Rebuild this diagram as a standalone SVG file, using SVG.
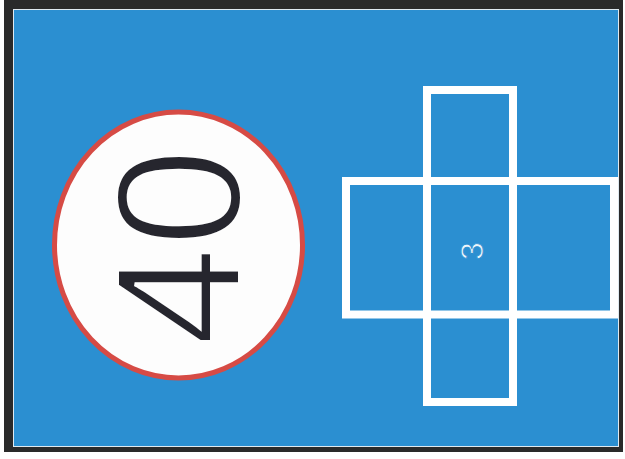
<svg xmlns="http://www.w3.org/2000/svg" width="625" height="459" viewBox="0 0 625 459">
  <style>
    .net { fill: none; stroke: #ffffff; stroke-width: 8; }
    .big { font-family: "Liberation Sans", Arial, sans-serif; font-size: 178px; fill: #26262e; stroke: #fdfdfd; stroke-width: 4; }
    .small { font-family: "Liberation Sans", Arial, sans-serif; font-size: 32px; fill: #eef6fb; stroke: #2b8fd1; stroke-width: 0.8; }
  </style>
  <rect x="0" y="0" width="625" height="459" fill="#ffffff"/>
  <g id="frame">
    <rect x="4" y="0" width="619" height="452" fill="#2a2a2a"/>
    <rect x="13.5" y="9.5" width="605" height="437" fill="#2b8fd1" stroke="#dfe9f0" stroke-width="1"/>
  </g>
  <g id="badge">
    <ellipse cx="178.5" cy="245" rx="124" ry="133" fill="#fdfdfd" stroke="#d64b45" stroke-width="5"/>
    <text class="big" transform="translate(240,247) rotate(-90)" text-anchor="middle" x="0" y="0">40</text>
  </g>
  <g id="net">
    <rect class="net" x="427" y="90" width="86" height="312"/>
    <rect class="net" x="346" y="181" width="268" height="133.5"/>
    <text class="small" transform="translate(483,251) rotate(-90)" text-anchor="middle" x="0" y="0">3</text>
  </g>
</svg>
